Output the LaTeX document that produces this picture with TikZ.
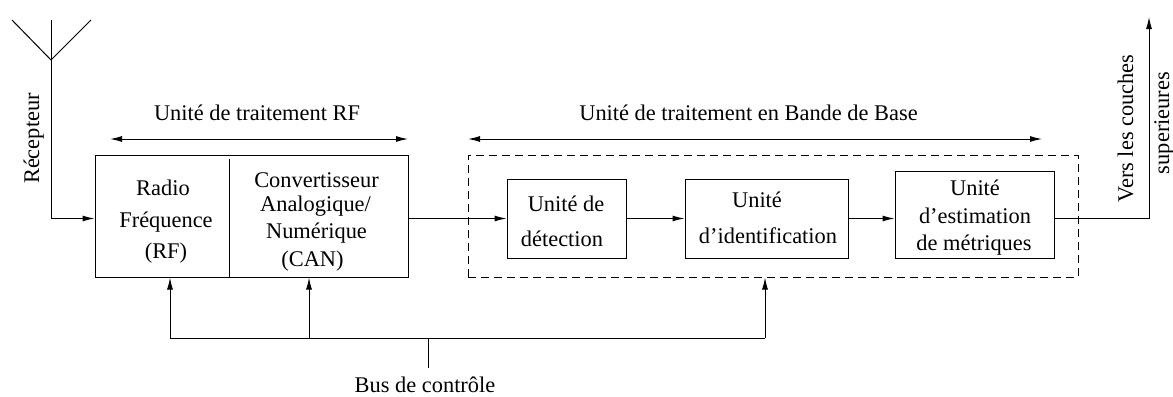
\documentclass[tikz,border=0pt]{standalone}
\usepackage{fontspec}
\setmainfont{Liberation Serif}
\usepackage{tikz}
\usetikzlibrary{positioning}
\usetikzlibrary{arrows.meta}
\tikzset{
  block/.style={draw=black,line width=0.75pt,inner sep=0pt},
  label/.style={font=\fontsize{16.8}{20}\selectfont,inner sep=0pt,anchor=base},
  vlabel/.style={label,rotate=90},
  fleche/.style={line width=0.75pt,-{Latex[length=9pt,width=4.5pt]}},
  double/.style={line width=0.75pt,{Latex[length=9pt,width=4.5pt]}-{Latex[length=9pt,width=4.5pt]}},
  trait/.style={line width=0.75pt}
}
\begin{document}
\begin{tikzpicture}[x=0.75pt,y=-0.75pt]
\useasboundingbox (0,0) rectangle (1173,396);
% antenne
\coordinate (ant) at (51,60);
\coordinate (antg) at (12,20);
\coordinate (antd) at (91,20);
\coordinate (anth) at (51,20);
\draw[trait] (antg) -- (ant) -- (antd);
\draw[trait] (anth) -- (ant);
% blocs RF
\node[block,minimum width=234.75pt,minimum height=91.5pt] (rfcan) at (251.5,216) {};
\coordinate (sep) at (229.5,159);
\draw[trait] (sep) -- (sep |- rfcan.south);
\node[label] (radio) at (163,195) {Radio};
\node[label] (freq) at (166,227) {Fréquence};
\node[label] (rf) at (166,258) {(RF)};
\node[label] (conv) at (316.5,187) {Convertisseur};
\node[label] (ana) at (315.5,211) {Analogique/};
\node[label] (num) at (316.5,238) {Numérique};
\node[label] (can) at (312.5,266) {(CAN)};
% bande de base
\node[draw=black,line width=0.75pt,dash pattern=on 6pt off 3.75pt,inner sep=0pt,minimum width=457.5pt,minimum height=91.5pt] (bb) at (773,216) {};
\node[block,minimum width=89.25pt,minimum height=59.25pt] (detect) at (566.5,218.5) {};
\node[label] (detect1) at (566,211) {Unité de};
\node[label] (detect2) at (562,246) {détection};
\node[block,minimum width=122.25pt,minimum height=59.25pt] (ident) at (766.5,218.5) {};
\node[label] (ident1) at (757,207) {Unité};
\node[label] (ident2) at (768,243) {d’identification};
\node[block,minimum width=119.25pt,minimum height=65.25pt] (metr) at (974.5,214.5) {};
\node[label] (metr1) at (975,195) {Unité};
\node[label] (metr2) at (975,223) {d’estimation};
\node[label] (metr3) at (974,250) {de métriques};
% connexions
\coordinate (entree) at (51,218.5);
\draw[fleche] (ant) -- (entree) -- (rfcan.west |- entree);
\draw[fleche] (rfcan.east |- entree) -- (detect.west);
\draw[fleche] (detect) -- (ident);
\draw[fleche] (ident) -- (metr.west |- ident);
\coordinate (sortie) at (1149,17);
\draw[fleche] (metr.east |- ident) -| (sortie);
% titres
\coordinate (a1) at (110,139);
\coordinate (a2) at (408,139);
\coordinate (b1) at (468,139);
\coordinate (b2) at (1042,139);
\draw[double] (a1) -- (a2);
\draw[double] (b1) -- (b2);
\node[label] (titrerf) at (257,120) {Unité de traitement RF};
\node[label] (titrebb) at (748.5,120) {Unité de traitement en Bande de Base};
\node[vlabel] (recep) at (39,138.5) {Récepteur};
\node[vlabel] (vers) at (1133,128.5) {Vers les couches};
\node[vlabel] (sup) at (1169,123) {superieures};
% bus
\coordinate (busg) at (170,338);
\coordinate (busd) at (765,338);
\coordinate (busc) at (309,338);
\coordinate (bush) at (428,338);
\coordinate (busb) at (428,368);
\draw[trait] (busg) -- (busd);
\draw[trait] (bush) -- (busb);
\draw[fleche] (busg) -- (busg |- rfcan.south);
\draw[fleche] (busc) -- (busc |- rfcan.south);
\draw[fleche] (busd) -- (busd |- bb.south);
\node[label] (bus) at (425,392) {Bus de contrôle};
\end{tikzpicture}
\end{document}
